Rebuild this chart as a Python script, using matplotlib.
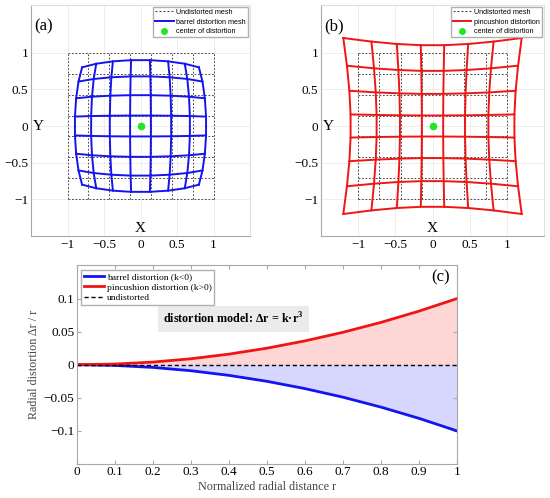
import numpy as np
import matplotlib
matplotlib.use('Agg')
import matplotlib.pyplot as plt
from matplotlib.lines import Line2D

plt.rcParams['font.family'] = ['Liberation Serif', 'DejaVu Serif']
plt.rcParams['mathtext.fontset'] = 'custom'
plt.rcParams['mathtext.rm'] = 'Liberation Serif'
plt.rcParams['mathtext.bf'] = 'Liberation Serif:bold'

# mesh node positions (8 x 8 grid)
mesh = [-1.0, -0.714, -0.429, -0.143, 0.143, 0.429, 0.714, 1.0]
k_barrel = -0.1
k_pincushion = 0.1

# panel (c): radial distortion dr/r vs r
r_vals = [0.0, 0.1, 0.2, 0.3, 0.4, 0.5, 0.6, 0.7, 0.8, 0.9, 1.0]
pin_vals = [0.0, 0.001, 0.004, 0.009, 0.016, 0.025, 0.036, 0.049, 0.064, 0.081, 0.1]
barrel_vals = [0.0, -0.001, -0.004, -0.009, -0.016, -0.025, -0.036, -0.049, -0.064, -0.081, -0.1]

mesh_ticks = [-1, -0.5, 0, 0.5, 1]
mesh_ticklabels = ['\u22121', '\u22120.5', '0', '0.5', '1']
c_xticks = [0, 0.1, 0.2, 0.3, 0.4, 0.5, 0.6, 0.7, 0.8, 0.9, 1]
c_xticklabels = ['0', '0.1', '0.2', '0.3', '0.4', '0.5', '0.6', '0.7', '0.8', '0.9', '1']
c_yticks = [-0.1, -0.05, 0, 0.05, 0.1]
c_yticklabels = ['\u22120.1', '\u22120.05', '0', '0.05', '0.1']

W, H = 550, 498
BLUE = '#1414f0'
RED = '#f01414'
GREEN = '#22e622'
SPINE = '#a8a8a8'
MESH_GRAY = '#4a4a4a'
MESH_DASH = (0, (1.8, 1.8))


def px_axes(fig, left, right, top, bottom):
    return fig.add_axes([left / W, 1 - bottom / H, (right - left) / W, (bottom - top) / H])


def distort(x, y, k):
    s = 1 + k * (x * x + y * y)
    return x * s, y * s


def mesh_panel(ax, k, color, label, tag):
    g = np.array(mesh)
    # undistorted mesh
    for v in mesh:
        c = np.full_like(g, v)
        ax.plot(g, c, color=MESH_GRAY, lw=0.7, ls=MESH_DASH, zorder=2)
        ax.plot(c, g, color=MESH_GRAY, lw=0.7, ls=MESH_DASH, zorder=2)
    # distorted mesh
    for v in mesh:
        c = np.full_like(g, v)
        xd, yd = distort(g, c, k)
        ax.plot(xd, yd, color=color, lw=1.4, zorder=3)
        xd, yd = distort(c, g, k)
        ax.plot(xd, yd, color=color, lw=1.4, zorder=3)
    ax.plot([0], [0], 'o', color=GREEN, ms=4.5, zorder=4)

    ax.set_xlim(-1.5, 1.5)
    ax.set_ylim(-1.5, 1.65)
    ax.set_xticks(mesh_ticks)
    ax.set_xticklabels(mesh_ticklabels)
    ax.set_yticks(mesh_ticks)
    ax.set_yticklabels(mesh_ticklabels)
    ax.tick_params(length=0, labelsize=9.5, pad=2)
    ax.grid(True, color='#ebebeb', lw=0.6)
    ax.set_axisbelow(True)
    for s in ['left', 'bottom']:
        ax.spines[s].set_color(SPINE)
    for s in ['top', 'right']:
        ax.spines[s].set_color('#e0e0e0')

    ax.text(0, -1.4, 'X', fontsize=11, ha='center', va='center')
    ax.text(-1.4, 0, 'Y', fontsize=11, ha='center', va='center')
    ax.text(-1.33, 1.36, tag, fontsize=12, ha='center', va='center')

    handles = [
        Line2D([0], [0], color=MESH_GRAY, lw=0.8, ls=MESH_DASH),
        Line2D([0], [0], color=color, lw=1.4),
        Line2D([0], [0], color=GREEN, marker='o', ms=4, ls='none'),
    ]
    labels = ['Undistorted mesh', label, 'center of distortion']
    ax.legend(handles, labels, loc='upper right',
              prop={'family': 'Liberation Sans', 'size': 5.2},
              fancybox=False, framealpha=1, edgecolor='#b0b0b0',
              borderaxespad=0.25, handlelength=2.5, handletextpad=0.4,
              labelspacing=0.35, borderpad=0.3)


fig = plt.figure(figsize=(W / 100, H / 100), dpi=100)

ax_a = px_axes(fig, 31, 250, 5, 236)
mesh_panel(ax_a, k_barrel, BLUE, 'barrel distortion mesh', '(a)')

ax_b = px_axes(fig, 321, 544, 5, 236)
mesh_panel(ax_b, k_pincushion, RED, 'pincushion distortion', '(b)')

# panel (c)
ax_c = px_axes(fig, 76.5, 457, 265.5, 464)
ax_c.fill_between(r_vals, 0, pin_vals, color='red', alpha=0.16, lw=0)
ax_c.fill_between(r_vals, 0, barrel_vals, color='blue', alpha=0.16, lw=0)
ax_c.plot(r_vals, barrel_vals, color=BLUE, lw=2.0, label='barrel distortion (k<0)')
ax_c.plot(r_vals, pin_vals, color=RED, lw=2.0, label='pincushion distortion (k>0)')
ax_c.plot([0, 1], [0, 0], color='black', lw=1.0, ls=(0, (3, 2)), label='undistorted')

ax_c.set_xlim(0, 1)
ax_c.set_ylim(-0.15, 0.15)
ax_c.set_xticks(c_xticks)
ax_c.set_xticklabels(c_xticklabels)
ax_c.set_yticks(c_yticks)
ax_c.set_yticklabels(c_yticklabels)
ax_c.tick_params(direction='in', top=True, right=True, length=3, color=SPINE,
                 labelsize=9.5, pad=1.5)
for s in ax_c.spines.values():
    s.set_color(SPINE)
ax_c.set_xlabel('Normalized radial distance r', fontsize=8.7, color='#444444', labelpad=2)
ax_c.set_ylabel('Radial distortion \u0394r / r', fontsize=8.7, color='#444444', labelpad=3)

ax_c.legend(loc='upper left', fontsize=6.8, fancybox=False, framealpha=1,
            edgecolor='#b0b0b0', borderaxespad=0.5, handlelength=2.2,
            handletextpad=0.25, labelspacing=0.2, borderpad=0.25)

ax_c.text(0.413, 0.0687, 'distortion model: \u0394r = k\u00b7r$^{\\mathbf{3}}$',
          fontsize=8.7, fontweight='bold', ha='center', va='center',
          bbox=dict(boxstyle='square,pad=0.45', facecolor='#ebebeb', edgecolor='none'))
ax_c.text(0.958, 0.132, '(c)', fontsize=12, ha='center', va='center')

fig.savefig('out.png', dpi=100)
